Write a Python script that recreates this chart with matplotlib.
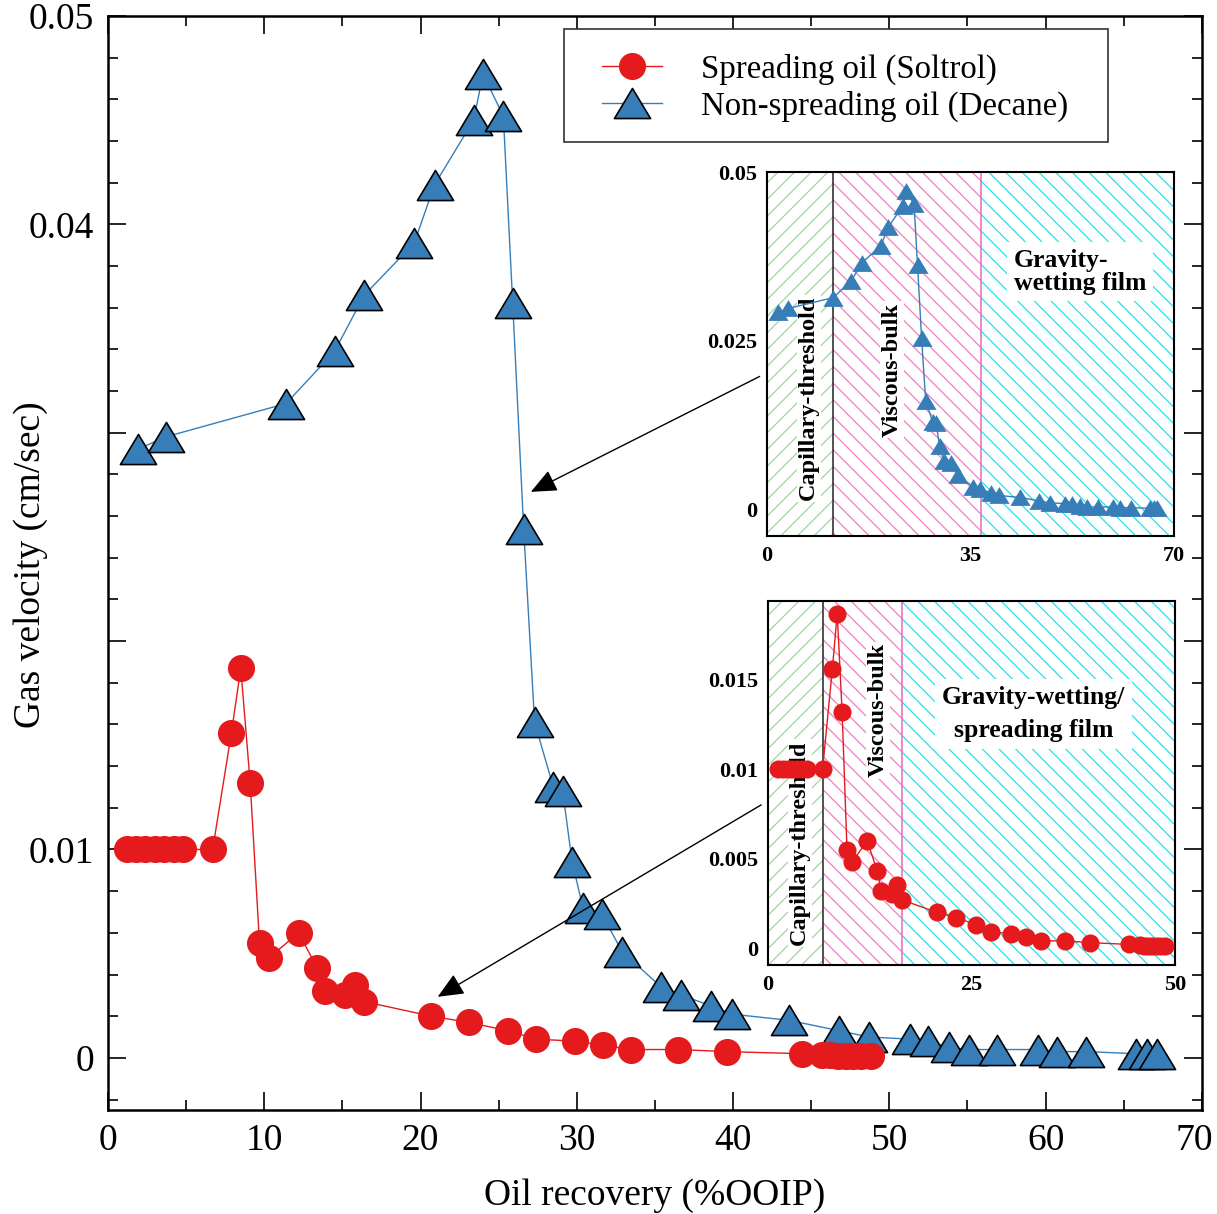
import matplotlib
matplotlib.use('Agg')
import matplotlib.pyplot as plt
from matplotlib.patches import Rectangle
from matplotlib.lines import Line2D
from matplotlib.path import Path
from matplotlib.transforms import ScaledTranslation

plt.rcParams['font.family'] = ['Liberation Serif', 'DejaVu Serif']
plt.rcParams['hatch.linewidth'] = 0.9

# ---------------- data ----------------
decane_x = [1.9, 3.7, 11.4, 14.5, 16.4, 19.6, 20.9, 23.4, 24.0, 25.3,
            25.9, 26.6, 27.3, 28.5, 29.1, 29.7, 30.4, 31.6, 32.9, 35.4,
            36.7, 38.6, 39.9, 43.6, 46.8, 48.7, 51.3, 52.5, 53.8, 55.1,
            56.9, 59.5, 60.7, 62.6, 65.8, 66.5, 67.1]
decane_y = [0.0292, 0.0298, 0.0314, 0.0339, 0.0366, 0.0391, 0.0419, 0.0450, 0.0472, 0.0452,
            0.0362, 0.0254, 0.0161, 0.0130, 0.0128, 0.0094, 0.0072, 0.0069, 0.0051, 0.0034,
            0.0030, 0.0025, 0.0021, 0.0018, 0.0013, 0.0010, 0.0009, 0.0008, 0.0005, 0.0004,
            0.0004, 0.0004, 0.0003, 0.0003, 0.0002, 0.0002, 0.0002]

soltrol_x = [1.2, 1.8, 2.4, 3.0, 3.6, 4.2, 4.8, 6.7, 7.9, 8.5,
             9.1, 9.7, 10.3, 12.2, 13.4, 13.9, 15.2, 15.8, 16.4, 20.7,
             23.1, 25.6, 27.4, 29.9, 31.7, 33.5, 36.5, 39.6, 44.4, 45.7,
             46.2, 46.7, 47.2, 47.7, 48.2, 48.8]
soltrol_y = [0.0100, 0.0100, 0.0100, 0.0100, 0.0100, 0.0100, 0.0100, 0.0100, 0.0156, 0.0187,
             0.0132, 0.0055, 0.0048, 0.0060, 0.0043, 0.0032, 0.0030, 0.0035, 0.0027, 0.0020,
             0.0017, 0.0013, 0.0009, 0.0008, 0.0006, 0.0004, 0.0004, 0.0003, 0.0002, 0.00015,
             0.00012, 0.0001, 0.0001, 0.0001, 0.0001, 0.0001]

series_labels = ['Spreading oil (Soltrol)', 'Non-spreading oil (Decane)']

x_ticks = [0, 10, 20, 30, 40, 50, 60, 70]
x_tick_labels = ['0', '10', '20', '30', '40', '50', '60', '70']
y_ticks = [0, 0.01, 0.02, 0.03, 0.04, 0.05]
y_tick_labels = ['0', '0.01', '', '', '0.04', '0.05']

inset1_xticks = [0, 35, 70]
inset1_xlabels = ['0', '35', '70']
inset1_yticks = [0, 0.025, 0.05]
inset1_ylabels = ['0', '0.025', '0.05']
inset1_bounds = [0, 11.35, 36.8, 70]
inset1_texts = ['Capillary-threshold', 'Viscous-bulk', 'Gravity-\nwetting film']

inset2_xticks = [0, 25, 50]
inset2_xlabels = ['0', '25', '50']
inset2_yticks = [0, 0.005, 0.01, 0.015]
inset2_ylabels = ['0', '0.005', '0.01', '0.015']
inset2_bounds = [0, 6.76, 16.5, 50]
inset2_texts = ['Capillary-threshold', 'Viscous-bulk', 'Gravity-wetting/\nspreading film']

# ---------------- style ----------------
RED = '#E41A1C'
BLUE = '#377EB8'
HATCH_COLS = ['#9ED69E', '#F07FC4', '#22E2EE']
HATCHES = ['//', '\\\\', '\\\\']
TRI = Path([(0, 1), (-1.2, -1), (1.2, -1), (0, 1)], closed=True)

fig = plt.figure(figsize=(12.17, 12.14), dpi=100)
ax = fig.add_axes([0.0887, 0.0857, 0.8989, 0.9012])

ax.plot(decane_x, decane_y, color=BLUE, lw=1.0, marker=TRI, ms=26,
        mfc=BLUE, mec='black', mew=1.2, zorder=3)
ax.plot(soltrol_x, soltrol_y, color=RED, lw=1.0, marker='o', ms=19.5,
        mfc=RED, mec=RED, mew=0, zorder=4)

ax.set_xlim(0, 70)
ax.set_ylim(-0.0025, 0.05)
ax.set_xticks(x_ticks, x_tick_labels)
ax.set_xticks([v + 5 for v in x_ticks[:-1]], minor=True)
ax.set_yticks(y_ticks, y_tick_labels)
ax.set_yticks([-0.002 + 0.002 * i for i in range(27)], minor=True)
ax.tick_params(which='both', direction='in', top=True, right=True, width=1.2,
               labelsize=27, pad=10)
ax.tick_params(which='major', length=13)
ax.tick_params(which='minor', length=7)
for s in ax.spines.values():
    s.set_linewidth(1.8)
# last x label nudged left so it stays inside the figure
last_lab = ax.get_xticklabels()[-1]
last_lab.set_transform(last_lab.get_transform() + ScaledTranslation(-8 / 100, 0, fig.dpi_scale_trans))

ax.set_xlabel('Oil recovery (%OOIP)', fontsize=27)
ax.xaxis.label.set_va('center')
ax.xaxis.set_label_coords(0.5, -0.0785)
ax.set_ylabel('Gas velocity (cm/sec)', fontsize=27)
ax.yaxis.label.set_va('center')
ax.yaxis.set_label_coords(-0.071, 0.498)

# legend
ax.add_patch(Rectangle((0.417, 0.885), 0.497, 0.103, transform=ax.transAxes,
                       facecolor='white', edgecolor='#333333', lw=1.2, zorder=5))
handles = [Line2D([], [], color=RED, lw=1.0, marker='o', ms=19.5, mfc=RED, mec=RED, mew=0),
           Line2D([], [], color=BLUE, lw=1.0, marker=TRI, ms=26, mfc=BLUE, mec='black', mew=1.2)]
leg = ax.legend(handles, series_labels, loc='upper left', bbox_to_anchor=(0.4516, 0.9655),
                borderaxespad=0, borderpad=0, handlelength=1.83, handletextpad=1.17,
                labelspacing=0.17, fontsize=23.7, frameon=False, numpoints=1)
leg.set_zorder(6)

# arrows
arrow_style = dict(arrowstyle='-|>,head_length=0.8,head_width=0.35', color='black',
                   lw=1.0, shrinkA=0, shrinkB=0, mutation_scale=20)
ax.annotate('', xy=(27.06, 0.02716), xytext=(41.7, 0.0327), arrowprops=arrow_style,
            annotation_clip=False, zorder=7)
ax.annotate('', xy=(21.1, 0.00293), xytext=(41.8, 0.01214), arrowprops=arrow_style,
            annotation_clip=False, zorder=7)


def style_inset(a, xt, xl, yt, yl):
    a.set_xticks(xt, xl)
    a.set_yticks(yt, yl)
    a.tick_params(length=0, labelsize=16, pad=7)
    for lab in a.get_xticklabels() + a.get_yticklabels():
        lab.set_fontweight('bold')
    for s in a.spines.values():
        s.set_linewidth(1.5)


def shade(a, bounds):
    for i in range(3):
        a.axvspan(bounds[i], bounds[i + 1], facecolor='white', edgecolor=HATCH_COLS[i],
                  hatch=HATCHES[i], lw=0, zorder=0.5)
    a.axvline(bounds[1], color='#333333', lw=1.2, zorder=1)
    a.axvline(bounds[2], color='#E377C2', lw=1.2, zorder=1)


txt_kw = dict(ha='center', va='center', fontsize=17.5, fontweight='bold', zorder=1.5)

# inset 1 (decane)
ax1 = fig.add_axes([0.6302, 0.5585, 0.3344, 0.2998])
shade(ax1, inset1_bounds)
ax1.plot(decane_x, decane_y, color=BLUE, lw=1.0, marker=TRI, ms=14.5,
         mfc=BLUE, mec=BLUE, mew=0, zorder=3)
ax1.set_xlim(0, 70)
ax1.set_ylim(-0.0039, 0.05)
style_inset(ax1, inset1_xticks, inset1_xlabels, inset1_yticks, inset1_ylabels)
ax1.text(7.2, 0.0165, inset1_texts[0], rotation=90,
         bbox=dict(facecolor='white', edgecolor='none', pad=1), **txt_kw)
ax1.text(21.5, 0.0207, inset1_texts[1], rotation=90,
         bbox=dict(facecolor='white', edgecolor='none', pad=1), **txt_kw)
t1kw = dict(txt_kw, fontsize=18.5)
ax1.text(53.9, 0.0352, inset1_texts[2], multialignment='left', linespacing=0.95,
         bbox=dict(facecolor='white', edgecolor='none', pad=5), **t1kw)

# inset 2 (soltrol)
ax2 = fig.add_axes([0.6311, 0.2051, 0.3344, 0.2998])
shade(ax2, inset2_bounds)
ax2.plot(soltrol_x, soltrol_y, color=RED, lw=1.0, marker='o', ms=13,
         mfc=RED, mec=RED, mew=0, zorder=3)
ax2.set_xlim(0, 50)
ax2.set_ylim(-0.00095, 0.0194)
style_inset(ax2, inset2_xticks, inset2_xlabels, inset2_yticks, inset2_ylabels)
ax2.text(3.9, 0.00587, inset2_texts[0], rotation=90,
         bbox=dict(facecolor='white', edgecolor='none', pad=1), **txt_kw)
ax2.text(13.5, 0.0133, inset2_texts[1], rotation=90,
         bbox=dict(facecolor='white', edgecolor='none', pad=1), **txt_kw)
ax2.text(32.6, 0.0131, inset2_texts[2], linespacing=1.55,
         bbox=dict(facecolor='white', edgecolor='none', pad=5), **t1kw)

fig.savefig('out.png', dpi=100)
